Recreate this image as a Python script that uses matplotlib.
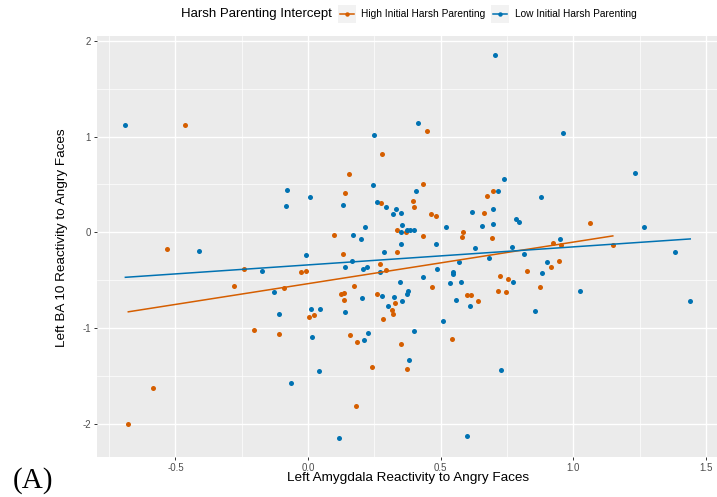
import numpy as np
import matplotlib.pyplot as plt
from matplotlib.patches import Rectangle
from matplotlib.lines import Line2D

plt.rcParams['font.family'] = ['Liberation Sans', 'DejaVu Sans']
plt.rcParams['axes.unicode_minus'] = False

# Data
high_x = [-0.466, 0.449, 0.280, 0.153, 0.432, 0.141, 0.696, 0.674, 0.397, 0.276,
          0.400, 0.664, 0.462, 0.483, 0.335, 0.370, 0.583, 0.096, 0.432, 0.580,
          0.693, 1.064, 0.925, 0.952, 1.149, 0.948, 0.917, 0.824, 0.876, 0.131,
          0.335, 0.271, -0.028, -0.008, 0.293, 0.725, 0.752, 0.174, 0.469, 0.123,
          0.136, 0.261, 0.715, 0.747, 0.601, 0.613, 0.134, 0.329, 0.639, 0.316,
          0.322, 0.005, 0.023, 0.281, 0.158, 0.186, 0.542, 0.351, 0.242, 0.373,
          0.179, -0.531, -0.242, -0.281, -0.092, -0.203, -0.111, -0.584, -0.678]
high_y = [1.124, 1.062, 0.821, 0.612, 0.501, 0.410, 0.435, 0.376, 0.327, 0.306,
          0.264, 0.202, 0.194, 0.174, 0.027, 0.000, 0.006, -0.028, -0.035, -0.052,
          -0.060, 0.097, -0.115, -0.136, -0.133, -0.297, -0.359, -0.408, -0.568, -0.223,
          -0.202, -0.335, -0.411, -0.401, -0.397, -0.453, -0.491, -0.561, -0.568, -0.641,
          -0.634, -0.641, -0.610, -0.620, -0.655, -0.655, -0.707, -0.736, -0.715, -0.812,
          -0.851, -0.882, -0.864, -0.909, -1.073, -1.146, -1.115, -1.170, -1.408, -1.425,
          -1.812, -0.171, -0.380, -0.564, -0.579, -1.021, -1.059, -1.624, -2.003]

low_x = [-0.689, -0.078, 0.007, -0.085, 0.703, 0.413, 0.250, 0.740, 0.245, 0.408,
         0.717, 0.261, 0.131, 0.295, 0.330, 0.696, 0.349, 0.618, 0.319, 0.785,
         0.214, 0.355, 0.655, 0.698, 0.521, 0.350, 0.374, 0.383, 0.398, 0.169,
         0.201, 0.960, 1.231, 0.879, 0.797, 1.266, 0.951, -0.009, 0.351, 0.481,
         0.629, 0.769, 0.287, 0.684, 0.570, 0.165, 0.141, 0.224, 0.207, 0.486,
         0.273, 0.547, 0.547, 0.432, 0.771, 0.346, 0.534, 0.578, 0.375, 0.374,
         0.280, 0.203, 0.325, 0.354, 0.559, 0.302, 0.612, 0.012, 0.045, 0.141,
         0.507, 0.400, 0.227, 0.016, 0.209, 0.379, 0.040, 0.728, 0.115, 0.599,
         -0.413, -0.175, -0.130, -0.111, -0.066, 0.814, 0.901, 0.883, 1.024, 0.857,
         1.385, 1.441]
low_y = [1.124, 0.442, 0.372, 0.278, 1.856, 1.142, 1.013, 0.553, 0.494, 0.431,
         0.435, 0.320, 0.285, 0.264, 0.243, 0.240, 0.202, 0.209, 0.188, 0.142,
         0.059, 0.076, 0.069, 0.083, 0.052, 0.006, 0.021, 0.024, 0.024, -0.028,
         -0.073, 1.038, 0.620, 0.366, 0.104, 0.052, -0.067, -0.237, -0.126, -0.126,
         -0.160, -0.150, -0.209, -0.265, -0.307, -0.300, -0.366, -0.359, -0.387, -0.387,
         -0.418, -0.411, -0.439, -0.464, -0.516, -0.522, -0.530, -0.516, -0.610, -0.648,
         -0.666, -0.687, -0.676, -0.715, -0.707, -0.767, -0.773, -0.805, -0.805, -0.833,
         -0.930, -1.035, -1.049, -1.091, -1.125, -1.334, -1.453, -1.439, -2.146, -2.125,
         -0.195, -0.401, -0.624, -0.851, -1.575, -0.230, -0.310, -0.422, -0.610, -0.819,
         -0.202, -0.715]

groups = ['High Initial Harsh Parenting', 'Low Initial Harsh Parenting']
colors = ['#D55E00', '#0072B2']
x_ticks = [-0.5, 0.0, 0.5, 1.0, 1.5]
y_ticks = [-2, -1, 0, 1, 2]

W, H = 717, 497
fig = plt.figure(figsize=(W / 100, H / 100), dpi=100)
ax = fig.add_axes([97 / W, 40 / H, 621.6 / W, 421.5 / H])
ax.set_facecolor('#EBEBEB')

for gx, gy, c in [(high_x, high_y, colors[0]), (low_x, low_y, colors[1])]:
    gx = np.array(gx)
    gy = np.array(gy)
    ax.scatter(gx, gy, s=13, color=c, linewidths=0, zorder=3)
    slope, icpt = np.polyfit(gx, gy, 1)
    xs = np.array([gx.min(), gx.max()])
    ax.plot(xs, icpt + slope * xs, color=c, lw=1.1, zorder=4)

ax.set_xlim(-0.796, 1.548)
ax.set_ylim(-2.346, 2.056)
ax.set_xticks(x_ticks)
ax.set_xticklabels([f'{v:.1f}' for v in x_ticks])
ax.set_yticks(y_ticks)
ax.set_xticks(np.arange(-0.75, 1.6, 0.5), minor=True)
ax.set_yticks(np.arange(-1.5, 2.0, 1.0), minor=True)
ax.grid(which='major', color='white', lw=1.0, zorder=0)
ax.grid(which='minor', color='white', lw=0.5, zorder=0)
ax.set_axisbelow(True)
for s in ax.spines.values():
    s.set_visible(False)
ax.tick_params(which='major', length=2.2, width=0.7, color='#333333',
               labelcolor='#4D4D4D', labelsize=7, pad=2)
ax.tick_params(which='minor', length=0)

ax.set_xlabel('Left Amygdala Reactivity to Angry Faces', fontsize=9.7, va='center')
ax.set_ylabel('Left BA 10 Reactivity to Angry Faces', fontsize=9.7, va='center')
ax.xaxis.set_label_coords(0.5, (457 - 478) / 421.5)
ax.yaxis.set_label_coords((62 - 97) / 621.6, 0.52)

# legend at top, drawn by hand in figure pixels
ly = 1 - 14 / H
fig.text(181 / W, ly, 'Harsh Parenting Intercept', fontsize=9.5, va='center', ha='left')
for key_x, lab_x, lab, c in [(338, 361, groups[0], colors[0]), (491, 515, groups[1], colors[1])]:
    fig.patches.append(Rectangle((key_x / W, 1 - 23 / H), 18 / W, 18 / H,
                                 transform=fig.transFigure, facecolor='#F2F2F2',
                                 edgecolor='none'))
    fig.lines.append(Line2D([(key_x + 2) / W, (key_x + 16) / W], [ly, ly],
                            transform=fig.transFigure, color=c, lw=1.1))
    fig.lines.append(Line2D([(key_x + 9) / W], [ly], transform=fig.transFigure,
                            color=c, marker='o', markersize=3.2, markeredgewidth=0))
    fig.text(lab_x / W, ly, lab, fontsize=7.3, va='center', ha='left')

fig.text(13 / W, 1 - 481 / H, '(A)', fontsize=21, va='center', ha='left',
         family=['Liberation Serif', 'DejaVu Serif'])

fig.savefig('out.png', dpi=100)
